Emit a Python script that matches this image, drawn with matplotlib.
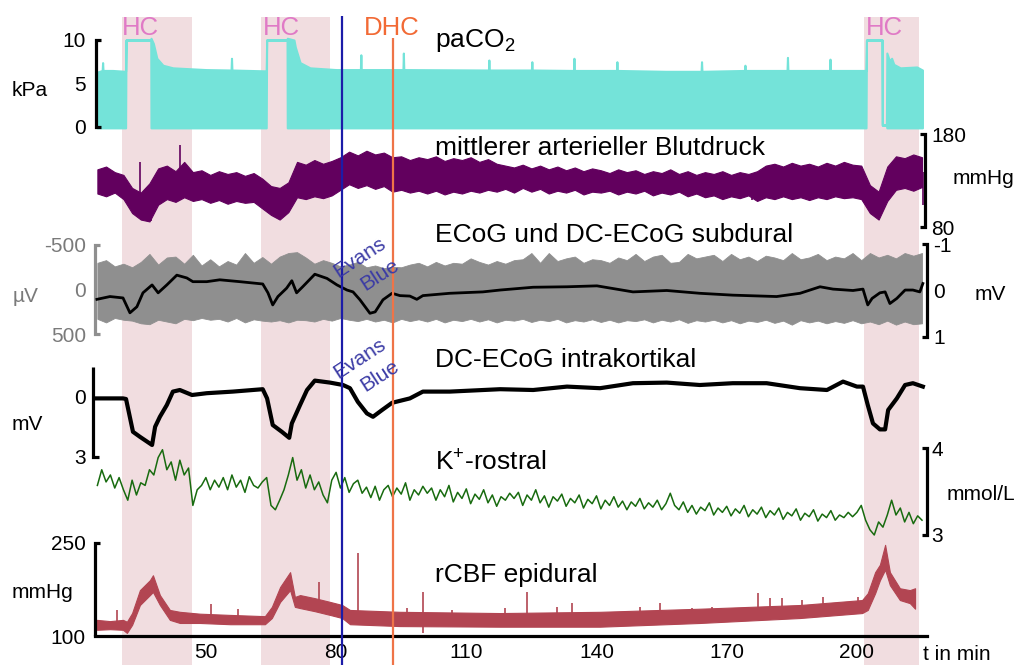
import numpy as np
import matplotlib
matplotlib.use('Agg')
import matplotlib.pyplot as plt

plt.rcParams['font.family'] = ['Liberation Sans', 'DejaVu Sans']
plt.rcParams['mathtext.fontset'] = 'custom'
plt.rcParams['mathtext.rm'] = 'Liberation Sans'

# --- events (t in min) ---
HC_START = [30.7, 62.7, 201.6]
HC_END = [46.7, 78.6, 214.4]
EVANS_T = 81.4
DHC_T = 93.0
XTICKS = [50, 80, 110, 140, 170, 200]

# --- paCO2 (kPa): envelope of the ventilation signal ---
CO2_T = [24.9, 26.1, 26.2, 26.3, 28.5, 31.5, 31.6, 37.3, 37.35, 37.9, 38.7, 40.1, 42.4,
         50.0, 55.8, 55.9, 56.0, 60.0, 63.9, 64.0, 68.7, 68.75, 70.3, 70.6, 71.7, 74.0,
         80.0, 85.6, 85.7, 85.8, 95.4, 95.5, 95.6, 115.1, 115.2, 115.3, 125.0, 125.1, 125.2,
         134.7, 134.8, 134.9, 144.6, 144.7, 144.8, 156.0, 164.1, 164.2, 164.3, 174.1, 174.2,
         174.3, 183.9, 184.0, 184.1, 193.7, 193.8, 193.9, 202.1, 202.2, 205.8, 205.85, 206.8,
         206.9, 207.5, 208.0, 208.5, 210.0, 213.8, 215.1]
CO2_HI = [6.3, 6.5, 7.4, 6.5, 6.5, 6.4, 10.0, 10.0, 10.2, 9.6, 7.9, 7.1, 6.8,
          6.6, 6.55, 7.9, 6.55, 6.5, 6.45, 10.0, 10.0, 10.2, 10.0, 9.2, 7.4, 6.8,
          6.6, 6.6, 8.3, 6.6, 6.6, 8.5, 6.6, 6.55, 7.7, 6.55, 6.55, 7.5, 6.55,
          6.5, 7.9, 6.5, 6.5, 7.5, 6.5, 6.4, 6.4, 7.5, 6.4, 6.5, 7.1,
          6.5, 6.5, 8.0, 6.5, 6.5, 7.8, 6.5, 6.5, 10.0, 10.0, 0.25, 0.25,
          8.5, 7.6, 7.9, 7.2, 6.8, 6.9, 6.55]
CO2_LO = [-0.1, -0.1, -0.1, -0.1, -0.1, -0.1, 10.0, 10.0, -0.1, -0.1, -0.1, -0.1, -0.1,
          -0.1, -0.1, -0.1, -0.1, -0.1, -0.1, 10.0, 10.0, -0.1, -0.1, -0.1, -0.1, -0.1,
          -0.1, -0.1, -0.1, -0.1, -0.1, -0.1, -0.1, -0.1, -0.1, -0.1, -0.1, -0.1, -0.1,
          -0.1, -0.1, -0.1, -0.1, -0.1, -0.1, -0.1, -0.1, -0.1, -0.1, -0.1, -0.1,
          -0.1, -0.1, -0.1, -0.1, -0.1, -0.1, -0.1, -0.1, 10.0, 10.0, 0.2, 0.2,
          -0.1, -0.1, -0.1, -0.1, -0.1, -0.1, -0.1]

# --- mean arterial blood pressure (mmHg), envelope every 2 min from t=25 ---
BP_HI = [142, 145, 139, 136, 122, 117, 127, 143, 146, 140,
         150, 139, 141, 136, 140, 137, 139, 135, 138, 132,
         124, 122, 128, 150, 147, 152, 148, 151, 155, 161,
         157, 162, 158, 160, 155, 156, 152, 155, 153, 156,
         151, 154, 152, 155, 150, 153, 148, 146, 144, 147,
         143, 146, 142, 145, 141, 144, 140, 143, 141, 138,
         142, 139, 141, 137, 140, 138, 142, 137, 140, 136,
         139, 137, 140, 136, 139, 137, 140, 146, 148, 145,
         149, 146, 148, 145, 149, 146, 150, 147, 146, 125,
         118, 145, 156, 154, 158, 155]
BP_LO = [116, 113, 117, 110, 95, 88, 86, 104, 110, 107,
         112, 108, 110, 106, 109, 105, 108, 106, 107, 100,
         93, 88, 96, 112, 110, 113, 111, 114, 120, 126,
         122, 125, 121, 124, 118, 120, 117, 119, 116, 119,
         115, 118, 116, 119, 117, 120, 118, 121, 117, 122,
         118, 121, 116, 119, 117, 120, 115, 118, 117, 119,
         115, 118, 116, 119, 114, 117, 115, 118, 113, 116,
         112, 114, 110, 113, 111, 114, 108, 112, 110, 113,
         110, 112, 109, 112, 110, 113, 111, 112, 110, 95,
         88, 108, 120, 122, 119, 123]
BP_SPK_T = [34.8, 37.4, 44.0, 175.8, 215.2]
BP_SPK_V = [150, 86, 168, 109, 104]

# --- ECoG (µV) envelope every 2 min from t=25 ---
ECOG_HI = [-300, -330, -260, -290, -250, -310, -400, -280, -360, -370,
           -290, -390, -270, -340, -260, -320, -280, -410, -300, -365,
           -290, -370, -410, -420, -360, -290, -330, -300, -260, -280,
           -310, -250, -270, -240, -255, -250, -280, -300, -260, -310,
           -270, -300, -290, -350, -310, -280, -320, -290, -330, -340,
           -410, -300, -410, -320, -350, -370, -300, -340, -330, -300,
           -360, -330, -400, -320, -370, -390, -300, -310, -400, -350,
           -370, -390, -320, -400, -340, -370, -320, -380, -360, -330,
           -410, -340, -360, -400, -330, -370, -350, -410, -330, -410,
           -360, -390, -350, -410, -380, -410]
ECOG_LO = [330, 370, 320, 340, 350, 380, 390, 340, 360, 380,
           330, 345, 320, 340, 330, 360, 320, 370, 335, 350,
           360, 345, 370, 340, 345, 360, 330, 350, 320, 340,
           355, 330, 360, 340, 370, 330, 355, 335, 360, 330,
           370, 340, 355, 330, 360, 335, 370, 340, 350, 330,
           365, 340, 355, 330, 370, 345, 360, 335, 365, 340,
           370, 345, 355, 335, 370, 340, 360, 335, 375, 345,
           360, 340, 370, 345, 380, 350, 365, 340, 375, 350,
           395, 345, 370, 350, 380, 355, 375, 345, 380, 360,
           390, 350, 395, 360, 390, 380]

# --- DC-ECoG subdural (mV) ---
SUB_T = [24.9, 27.9, 30.9, 32.5, 34.1, 35.5, 37.6, 39.0, 41.0, 43.3, 45.6, 47.0, 50.2,
         53.2, 57.8, 63.1, 64.3, 65.4, 66.6, 68.6, 69.8, 70.9, 72.3, 75.1, 77.9, 80.2,
         82.5, 83.9, 85.5, 87.8, 89.0, 90.8, 92.9, 94.7, 97.0, 98.6, 100.0, 106.2, 113.8,
         117.8, 125.4, 133.2, 140.1, 148.4, 156.2, 163.8, 171.4, 181.5, 186.9, 191.5,
         194.5, 199.1, 201.4, 202.5, 203.5, 205.3, 206.5, 207.6, 209.2, 211.1, 212.9,
         214.5, 215.2]
SUB_V = [0.19, 0.13, 0.16, 0.48, 0.35, 0.05, -0.12, 0.05, -0.12, -0.33, -0.27, -0.19, -0.19,
         -0.23, -0.19, -0.14, 0.05, 0.31, 0.13, -0.05, -0.21, 0.05, -0.08, -0.35, -0.26, -0.12,
         -0.01, 0.03, 0.20, 0.49, 0.46, 0.20, 0.06, 0.11, 0.12, 0.19, 0.11, 0.06, 0.03,
         -0.01, -0.07, -0.08, -0.10, 0.03, 0.00, 0.06, 0.10, 0.13, 0.06, -0.08,
         -0.03, 0.00, -0.03, 0.31, 0.17, 0.05, 0.03, 0.28, 0.17, -0.01, -0.01,
         0.03, -0.15]

# --- DC-ECoG intrakortikal (mV) ---
INT_T = [24.9, 30.9, 31.6, 33.2, 34.8, 37.6, 38.3, 39.4, 41.0, 42.4, 44.0, 46.8, 50.2,
         56.2, 63.1, 64.1, 65.4, 67.5, 69.2, 69.8, 71.7, 73.3, 75.1, 78.6, 81.6, 83.2,
         85.0, 87.1, 88.5, 90.6, 92.9, 97.0, 100.0, 106.2, 117.8, 125.4, 133.2, 140.8,
         148.4, 156.2, 163.8, 171.4, 179.2, 186.9, 193.1, 196.8, 200.0, 201.4, 202.5,
         203.7, 205.3, 206.5, 207.2, 209.2, 211.1, 212.9, 215.2]
INT_V = [0.07, 0.07, 0.10, 1.74, 1.99, 2.40, 1.49, 0.99, 0.40, -0.27, -0.35, -0.10, -0.19,
         -0.27, -0.39, 0.07, 1.40, 1.74, 2.04, 1.32, 0.40, -0.35, -0.82, -0.72, -0.60, -0.44,
         0.24, 0.82, 0.99, 0.65, 0.29, 0.07, -0.27, -0.27, -0.39, -0.35, -0.52, -0.44,
         -0.69, -0.72, -0.60, -0.69, -0.69, -0.44, -0.35, -0.77, -0.52, -0.52, 0.40,
         1.32, 1.62, 1.62, 0.65, 0.07, -0.60, -0.69, -0.52]

# --- K+ rostral (mmol/L), one value per minute from t=25 ---
K_V = [3.57, 3.75, 3.61, 3.69, 3.54, 3.66, 3.52, 3.40, 3.63, 3.46,
       3.60, 3.57, 3.75, 3.69, 3.89, 3.98, 3.75, 3.84, 3.63, 3.86,
       3.69, 3.77, 3.34, 3.52, 3.57, 3.66, 3.52, 3.63, 3.55, 3.66,
       3.52, 3.69, 3.55, 3.63, 3.49, 3.67, 3.57, 3.54, 3.61, 3.66,
       3.34, 3.29, 3.40, 3.52, 3.69, 3.89, 3.63, 3.75, 3.54, 3.69,
       3.52, 3.61, 3.46, 3.37, 3.63, 3.72, 3.54, 3.66, 3.49, 3.59,
       3.63, 3.48, 3.55, 3.43, 3.56, 3.40, 3.52, 3.57, 3.44, 3.54,
       3.47, 3.60, 3.40, 3.52, 3.46, 3.56, 3.48, 3.54, 3.40, 3.52,
       3.44, 3.57, 3.38, 3.49, 3.42, 3.53, 3.36, 3.47, 3.41, 3.52,
       3.37, 3.46, 3.33, 3.44, 3.40, 3.48, 3.42, 3.49, 3.34, 3.46,
       3.40, 3.52, 3.37, 3.45, 3.32, 3.44, 3.39, 3.47, 3.33, 3.42,
       3.37, 3.46, 3.31, 3.41, 3.36, 3.45, 3.30, 3.40, 3.34, 3.44,
       3.32, 3.39, 3.29, 3.38, 3.33, 3.42, 3.30, 3.37, 3.32, 3.40,
       3.29, 3.36, 3.48, 3.34, 3.29, 3.38, 3.26, 3.34, 3.24, 3.32,
       3.28, 3.37, 3.23, 3.31, 3.26, 3.33, 3.22, 3.30, 3.25, 3.34,
       3.21, 3.29, 3.24, 3.32, 3.20, 3.28, 3.23, 3.31, 3.18, 3.26,
       3.22, 3.30, 3.17, 3.25, 3.21, 3.29, 3.16, 3.24, 3.20, 3.28,
       3.17, 3.23, 3.20, 3.26, 3.21, 3.26, 3.34, 3.17, 3.06, 3.00,
       3.15, 3.09, 3.23, 3.40, 3.23, 3.31, 3.15, 3.26, 3.13, 3.22,
       3.17]

# --- rCBF epidural ---
CBF_T = [24.9, 27.9, 30.9, 31.8, 33.0, 34.8, 37.1, 37.8, 39.4, 41.7, 44.0, 48.6, 55.6,
         63.6, 65.2, 67.1, 69.4, 70.5, 71.7, 75.1, 78.6, 81.4, 83.2, 94.7, 117.8, 140.8,
         163.8, 186.9, 201.2, 202.5, 204.2, 205.3, 206.5, 207.6, 209.9, 212.2, 213.4]
CBF_HI = [126, 124, 126, 123, 137, 174, 190, 198, 166, 142, 139, 136, 134,
          132, 147, 179, 203, 163, 166, 161, 155, 150, 142, 139, 137, 139,
          144, 150, 158, 169, 203, 215, 247, 203, 177, 174, 177]
CBF_LO = [110, 111, 110, 105, 118, 150, 166, 171, 150, 126, 121, 121, 119,
          119, 129, 155, 174, 147, 145, 140, 134, 129, 119, 116, 115, 115,
          121, 129, 137, 142, 169, 190, 207, 182, 158, 153, 144]
CBF_SPK_T = [29.5, 51.2, 57.4, 76.1, 85.0, 96.3, 100.0, 100.1, 106.7, 118.9, 124.0, 130.9,
             134.4, 150.0, 154.6, 162.0, 166.6, 177.2, 180.0, 182.7, 187.3, 192.2, 200.2]
CBF_SPK_V = [142, 152, 144, 187, 234, 145, 171, 105, 142, 145, 171, 147,
             153, 147, 153, 145, 147, 169, 161, 161, 158, 163, 163]

# --- layout (pixels of the 1019x665 canvas) ---
W, H = 1019, 665
X0, X1 = 95, 927
XLIM = (24.45, 216.15)

TEAL = '#74e3d9'
PURPLE = '#62005e'
GREY = '#8f8f8f'
GREEN = '#186b0f'
CBF_RED = '#b24552'
PINK = '#f1dde0'
HC_COL = '#e07ac6'
DHC_COL = '#f26a35'
BLUE = '#1c1ca8'
ORANGE = '#ef7448'
EVANS_COL = '#3b3ba5'

fig = plt.figure(figsize=(W / 100, H / 100), dpi=100)


def ftext(x, row, s, **kw):
    kw.setdefault('fontsize', 15)
    fig.text(x / W, 1 - row / H, s, **kw)


def panel(row_top, row_bot, ref):
    (va, ra), (vb, rb) = ref
    ax = fig.add_axes([X0 / W, 1 - row_bot / H, (X1 - X0) / W, (row_bot - row_top) / H])
    k = (vb - va) / (rb - ra)
    ax.set_ylim(va + (row_bot - ra) * k, va + (row_top - ra) * k)
    ax.set_xlim(*XLIM)
    ax.patch.set_visible(False)
    for s in ax.spines.values():
        s.set_visible(False)
    ax.set_xticks([])
    ax.tick_params(axis='y', length=0, labelsize=15, pad=6.5)
    return ax


def bracket(ax, xpix, v0, v1, serif, color='black', ends=(True, True)):
    fx = (xpix - X0) / (X1 - X0)
    sx = fx + serif / (X1 - X0)
    xs, ys = [fx, fx], [v0, v1]
    if ends[0]:
        xs, ys = [sx] + xs, [v0] + ys
    if ends[1]:
        xs, ys = xs + [sx], ys + [v1]
    ax.plot(xs, ys, transform=ax.get_yaxis_transform(), clip_on=False, color=color,
            lw=2.3, solid_joinstyle='miter', solid_capstyle='butt')


# background: HC bands
bg = fig.add_axes([X0 / W, 0, (X1 - X0) / W, 1])
bg.set_xlim(*XLIM)
bg.set_ylim(H, 0)
bg.axis('off')
for s, e in zip(HC_START, HC_END):
    bg.axvspan(s, e, ymin=0, ymax=1 - 17 / H, color=PINK, lw=0)

t2 = 25 + 2 * np.arange(len(BP_HI))

# paCO2
ax = panel(10, 135, ((0, 127), (10, 40)))
ax.fill_between(CO2_T, CO2_LO, CO2_HI, color=TEAL, lw=1.5)
ax.set_yticks([0, 5, 10], ['0', '5', '10'])
bracket(ax, 96, 10, 0, 5)
ftext(12, 91, 'kPa', va='center')

# blood pressure
ax = panel(125, 240, ((180, 134), (80, 227)))
ax.fill_between(t2, BP_LO, BP_HI, color=PURPLE, lw=0.8)
bp_mid = np.interp(BP_SPK_T, t2, (np.array(BP_LO) + np.array(BP_HI)) / 2)
ax.vlines(BP_SPK_T, bp_mid, BP_SPK_V, color=PURPLE, lw=1.2)
ax.yaxis.tick_right()
ax.set_yticks([80, 180], ['80', '180'])
ax.tick_params(axis='y', pad=3)
bracket(ax, 925, 180, 80, -5)
ftext(953, 178, 'mmHg', va='center')

# ECoG + DC-ECoG subdural
ax = panel(235, 345, ((-500, 245), (500, 334)))
ax.fill_between(t2, ECOG_LO, ECOG_HI, color=GREY, lw=0.6)
ax.set_yticks([-500, 0, 500], ['-500', '0', '500'])
ax.tick_params(axis='y', labelcolor='#7a7a7a')
bracket(ax, 95, -500, 500, 5, color=GREY)
ftext(13, 297, 'µV', va='center', color='#7a7a7a')

ax = panel(235, 345, ((-1, 244), (1, 337)))
ax.plot(SUB_T, SUB_V, color='black', lw=2.0)
ax.yaxis.tick_right()
ax.set_yticks([-1, 0, 1], ['-1', '0', '1'])
ax.tick_params(axis='y', pad=4.5)
bracket(ax, 927, -1, 1, -5)
ftext(975, 295, 'mV', va='center')

# DC-ECoG intrakortikal
ax = panel(355, 465, ((0, 397), (3, 457)))
ax.plot(INT_T, INT_V, color='black', lw=3.0)
ax.set_yticks([0, 3], ['0', '3'])
bracket(ax, 93, 3, -1.5, 6, ends=(True, False))
ftext(12, 425, 'mV', va='center')

# K+
ax = panel(440, 545, ((4, 448), (3, 535)))
ax.plot(25 + np.arange(len(K_V)), K_V, color=GREEN, lw=1.1)
ax.yaxis.tick_right()
ax.set_yticks([3, 4], ['3', '4'])
ax.tick_params(axis='y', pad=3)
bracket(ax, 927, 4, 3, -5)
ftext(947, 495, 'mmol/L', va='center')

# rCBF
ax = panel(535, 636, ((250, 543), (100, 636)))
ax.fill_between(CBF_T, CBF_LO, CBF_HI, color=CBF_RED, lw=0.8)
cbf_base = np.interp(CBF_SPK_T, CBF_T, (np.array(CBF_LO) + np.array(CBF_HI)) / 2)
ax.vlines(CBF_SPK_T, cbf_base, CBF_SPK_V, color=CBF_RED, lw=1.2)
ax.set_yticks([100, 250], ['100', '250'])
bracket(ax, 95, 250, 100, 5, ends=(True, False))
ax.spines['bottom'].set_visible(True)
ax.spines['bottom'].set_linewidth(2.3)
ax.set_xticks(XTICKS, [str(v) for v in XTICKS])
ax.tick_params(axis='x', length=0, labelsize=15, pad=5)
ftext(12, 592, 'mmHg', va='center')
ftext(923, 655, 't in min', va='center')

# overlay: event lines and labels
top = fig.add_axes([X0 / W, 0, (X1 - X0) / W, 1])
top.set_xlim(*XLIM)
top.set_ylim(H, 0)
top.axis('off')
top.vlines(EVANS_T, 16, H, color=BLUE, lw=1.6)
top.vlines(DHC_T, 38, H, color=ORANGE, lw=1.6)

for x in (140, 281, 884):
    ftext(x, 35, 'HC', ha='center', va='baseline', fontsize=18.5, color=HC_COL)
ftext(392, 35, 'DHC', ha='center', va='baseline', fontsize=18.5, color=DHC_COL)

for dy in (0, 101):
    ftext(360, 258 + dy, 'Evans', ha='center', va='center', rotation=33,
          rotation_mode='anchor', fontsize=15, color=EVANS_COL)
    ftext(380, 275 + dy, 'Blue', ha='center', va='center', rotation=33,
          rotation_mode='anchor', fontsize=15, color=EVANS_COL)

ftext(435, 47, r'paCO$_\mathregular{2}$', va='baseline', fontsize=19)
ftext(435, 155, 'mittlerer arterieller Blutdruck', va='baseline', fontsize=19)
ftext(435, 241.7, 'ECoG und DC-ECoG subdural', va='baseline', fontsize=19)
ftext(435, 366.7, 'DC-ECoG intrakortikal', va='baseline', fontsize=19)
ftext(435, 470, r'K$^\mathregular{+}$-rostral', va='baseline', fontsize=19)
ftext(435, 581.7, 'rCBF epidural', va='baseline', fontsize=19)

fig.savefig('out.png', dpi=100)
